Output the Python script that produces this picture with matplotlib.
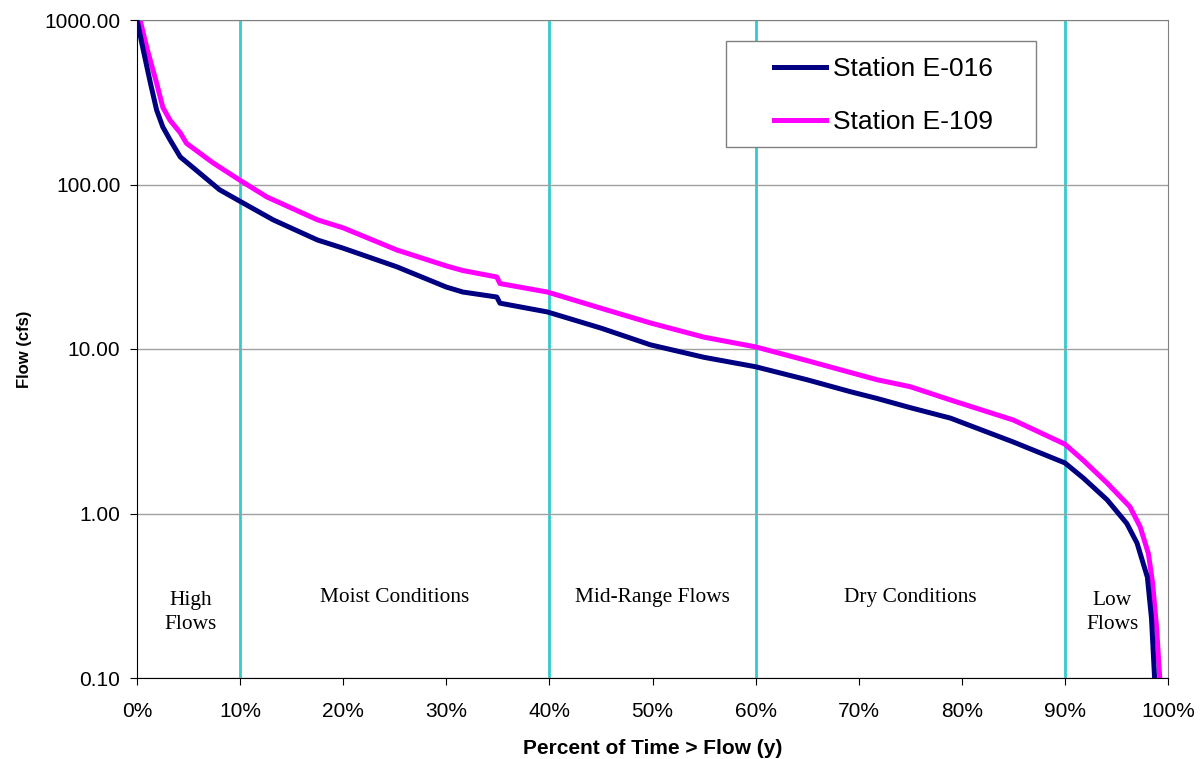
import matplotlib
matplotlib.use('Agg')
import matplotlib.pyplot as plt
from matplotlib.patches import Rectangle
from matplotlib.ticker import FixedLocator, FuncFormatter, NullLocator

# flow duration curves
pct_e016 = [0, 0.6, 1.3, 1.9, 2.5, 3.2, 4.2, 6.1, 8, 10, 13.2, 17.5, 20, 25.2,
            30, 31.6, 34.9, 35.2, 39.8, 45, 49.8, 55, 60, 65, 69.2, 71.8, 75,
            78.9, 85, 90, 91.8, 94.1, 96, 97, 98, 98.4, 98.7]
flow_e016 = [1000, 660, 414, 284, 224, 187, 147, 117, 93, 79, 61, 46, 41, 31.6,
             23.8, 22.2, 20.7, 19, 16.8, 13.4, 10.6, 8.9, 7.8, 6.5, 5.5, 5.0,
             4.4, 3.8, 2.72, 2.03, 1.64, 1.21, 0.87, 0.66, 0.41, 0.23, 0.1]

pct_e109 = [0.3, 1.0, 1.9, 2.5, 3.2, 4.2, 4.8, 7.4, 10, 12.6, 17.5, 20, 25.2,
            30, 31.6, 34.9, 35.2, 39.8, 45, 49.8, 55, 60, 65, 69.2, 71.8, 75,
            78.9, 85, 90, 91.8, 94.1, 96.3, 97.3, 98.1, 98.5, 98.9, 99.2]
flow_e109 = [1000, 660, 414, 295, 246, 206, 178, 135, 106, 84, 61, 54.5, 40,
             32, 30, 27.4, 25, 22.2, 17.7, 14.4, 11.8, 10.3, 8.5, 7.2, 6.5, 5.9,
             4.9, 3.7, 2.64, 2.1, 1.53, 1.1, 0.83, 0.57, 0.38, 0.2, 0.1]

zone_edges = [10, 40, 60, 90]
zone_labels = ["High\nFlows", "Moist Conditions", "Mid-Range Flows",
               "Dry Conditions", "Low\nFlows"]
zone_centers = [5.2, 25, 50, 75, 94.6]
zone_label_y = [0.25, 0.31, 0.31, 0.31, 0.25]

fig = plt.figure(figsize=(12.04, 7.59), dpi=100)
ax = fig.add_axes([137 / 1204, 81 / 759, 1031 / 1204, 658 / 759])

ax.set_yscale('log')
ax.set_xlim(0, 100)
ax.set_ylim(0.1, 1000)

ax.yaxis.set_major_locator(FixedLocator([0.1, 1, 10, 100, 1000]))
ax.yaxis.set_minor_locator(NullLocator())
ax.yaxis.set_major_formatter(FuncFormatter(lambda v, p: "%.2f" % v))
ax.xaxis.set_major_locator(FixedLocator(range(0, 101, 10)))
ax.xaxis.set_major_formatter(FuncFormatter(lambda v, p: "%d%%" % v))

ax.grid(True, axis='y', color='#a0a0a0', linewidth=1)
for e in zone_edges:
    ax.axvline(e, color='#33cccc', linewidth=2, zorder=1)

ax.plot(pct_e016, flow_e016, color='#000080', linewidth=3.6,
        label="Station E-016", zorder=3)
ax.plot(pct_e109, flow_e109, color='#ff00ff', linewidth=3.6,
        label="Station E-109", zorder=2)

for lab, xc, yc in zip(zone_labels, zone_centers, zone_label_y):
    ax.text(xc, yc, lab, ha='center', va='center', family='Liberation Serif',
            fontsize=15.4, linespacing=1.4)

ax.tick_params(axis='both', direction='out', length=5, labelsize=15,
               color='black')
ax.tick_params(axis='x', pad=12)
ax.tick_params(axis='y', pad=7)
for t in ax.get_xticklabels() + ax.get_yticklabels():
    t.set_family('Liberation Sans')
ax.spines['top'].set_color('#808080')
ax.spines['right'].set_color('#808080')
ax.spines['left'].set_color('black')
ax.spines['bottom'].set_color('black')

ax.set_xlabel("Percent of Time > Flow (y)", family='Liberation Sans',
              fontsize=15, fontweight='bold', labelpad=13)
ax.set_ylabel("Flow (cfs)", family='Liberation Sans', fontsize=12,
              fontweight='bold', labelpad=9)

# legend frame drawn separately so the padding matches the original
ax.add_patch(Rectangle((0.5713, 0.807), 0.872 - 0.5713, 0.968 - 0.807,
                       transform=ax.transAxes, facecolor='white',
                       edgecolor='#808080', linewidth=1, zorder=4))
lgd = ax.legend(loc='center left', bbox_to_anchor=(761 / 1204, 1 - 95.5 / 759),
                bbox_transform=fig.transFigure,
                prop={'family': 'Liberation Sans', 'size': 19},
                frameon=False, handlelength=1.97, borderpad=0,
                labelspacing=1.1, handletextpad=0.25)
lgd.set_zorder(5)

plt.savefig("out.png", dpi=100)
